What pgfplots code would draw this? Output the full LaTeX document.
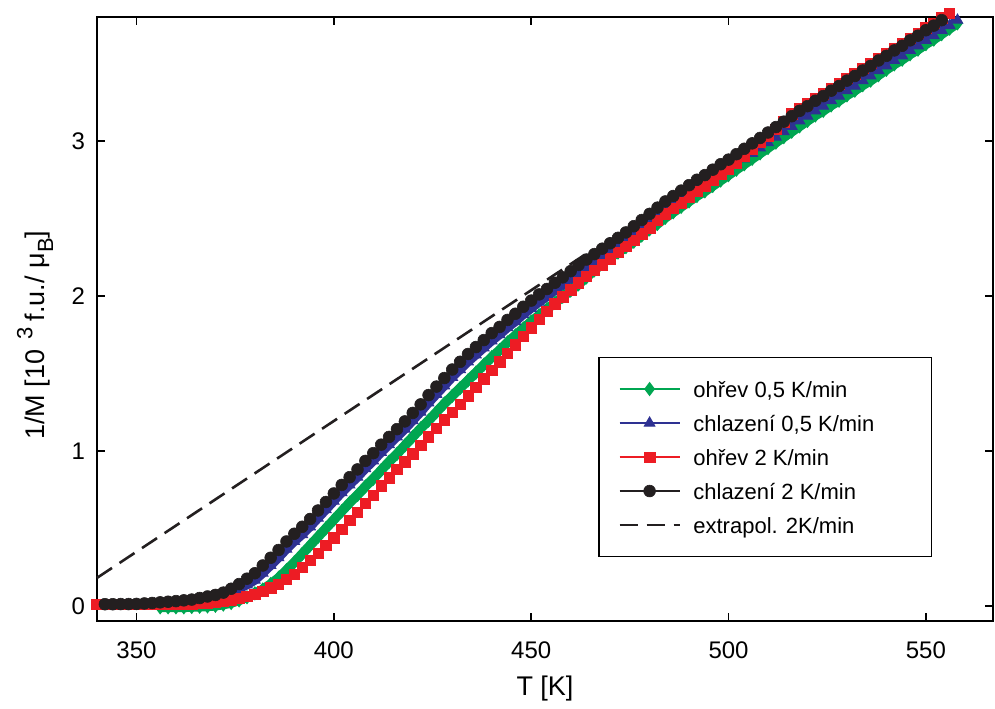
\documentclass[border=0pt]{standalone}
\usepackage{fontspec}
\setmainfont{Liberation Sans}
\usepackage{pgfplots}
\usepackage{pgfplotstable}
\pgfplotsset{compat=1.18}
\definecolor{cgreen}{RGB}{0,166,81}
\definecolor{cblue}{RGB}{46,49,146}
\definecolor{cred}{RGB}{237,28,36}
\definecolor{cblack}{RGB}{35,31,32}

\pgfplotstableread[row sep=\\]{
T v\\
356 -0.010\\ 358 -0.010\\ 360 -0.010\\ 362 -0.010\\ 364 -0.008\\ 366 -0.006\\ 368 -0.004\\ 370 0.000\\
372 0.008\\ 374 0.018\\ 376 0.035\\ 378 0.055\\ 380 0.080\\ 382 0.105\\ 384 0.140\\ 386 0.180\\
388 0.230\\ 390 0.280\\ 392 0.335\\ 394 0.390\\ 396 0.445\\ 398 0.500\\ 400 0.555\\ 402 0.610\\
404 0.665\\ 406 0.715\\ 408 0.770\\ 410 0.820\\ 412 0.875\\ 414 0.930\\ 416 0.980\\ 418 1.035\\
420 1.090\\ 422 1.145\\ 424 1.195\\ 426 1.250\\ 428 1.305\\ 430 1.355\\ 432 1.405\\ 434 1.455\\
436 1.505\\ 438 1.555\\ 440 1.605\\ 442 1.650\\ 444 1.700\\ 446 1.745\\ 448 1.790\\ 450 1.835\\
452 1.875\\ 454 1.915\\ 456 1.955\\ 458 1.995\\ 460 2.035\\ 462 2.075\\ 464 2.120\\ 466 2.165\\
468 2.210\\ 470 2.250\\ 472 2.280\\ 474 2.315\\ 476 2.350\\ 478 2.390\\ 480 2.430\\ 482 2.465\\
484 2.505\\ 486 2.540\\ 488 2.575\\ 490 2.610\\ 492 2.645\\ 494 2.675\\ 496 2.710\\ 498 2.745\\
500 2.780\\ 502 2.815\\ 504 2.850\\ 506 2.885\\ 508 2.920\\ 510 2.955\\ 512 2.990\\ 514 3.025\\
516 3.060\\ 518 3.095\\ 520 3.130\\ 522 3.165\\ 524 3.195\\ 526 3.230\\ 528 3.260\\ 530 3.295\\
532 3.325\\ 534 3.360\\ 536 3.390\\ 538 3.425\\ 540 3.460\\ 542 3.495\\ 544 3.525\\ 546 3.560\\
548 3.590\\ 550 3.625\\ 552 3.655\\ 554 3.690\\ 556 3.725\\ 558 3.760\\
}\greendata

\pgfplotstableread[row sep=\\]{
T v\\
358 0.005\\ 360 0.008\\ 362 0.012\\ 364 0.018\\ 366 0.025\\ 368 0.035\\ 370 0.048\\ 372 0.065\\
374 0.085\\ 376 0.110\\ 378 0.135\\ 380 0.165\\ 382 0.210\\ 384 0.260\\ 386 0.310\\ 388 0.365\\
390 0.415\\ 392 0.460\\ 394 0.510\\ 396 0.565\\ 398 0.620\\ 400 0.675\\ 402 0.730\\ 404 0.780\\
406 0.830\\ 408 0.885\\ 410 0.935\\ 412 0.990\\ 414 1.040\\ 416 1.090\\ 418 1.140\\ 420 1.195\\
422 1.250\\ 424 1.310\\ 426 1.365\\ 428 1.420\\ 430 1.475\\ 432 1.525\\ 434 1.575\\ 436 1.620\\
438 1.665\\ 440 1.710\\ 442 1.750\\ 444 1.795\\ 446 1.835\\ 448 1.880\\ 450 1.920\\ 452 1.960\\
454 1.995\\ 456 2.035\\ 458 2.070\\ 460 2.110\\ 462 2.150\\ 464 2.185\\ 466 2.220\\ 468 2.255\\
470 2.290\\ 472 2.320\\ 474 2.355\\ 476 2.390\\ 478 2.430\\ 480 2.470\\ 482 2.505\\ 484 2.545\\
486 2.580\\ 488 2.615\\ 490 2.650\\ 492 2.685\\ 494 2.715\\ 496 2.750\\ 498 2.785\\ 500 2.815\\
502 2.850\\ 504 2.885\\ 506 2.920\\ 508 2.955\\ 510 2.990\\ 512 3.025\\ 514 3.060\\ 516 3.095\\
518 3.130\\ 520 3.160\\ 522 3.195\\ 524 3.225\\ 526 3.260\\ 528 3.290\\ 530 3.325\\ 532 3.355\\
534 3.390\\ 536 3.420\\ 538 3.455\\ 540 3.485\\ 542 3.520\\ 544 3.550\\ 546 3.585\\ 548 3.615\\
550 3.650\\ 552 3.680\\ 554 3.715\\ 556 3.745\\ 558 3.780\\
}\bluedata

\pgfplotstableread[row sep=\\]{
T v\\
340 0.010\\ 342 0.010\\ 344 0.010\\ 346 0.010\\ 348 0.010\\ 350 0.010\\ 352 0.010\\ 354 0.010\\
356 0.010\\ 358 0.010\\ 360 0.011\\ 362 0.011\\ 364 0.012\\ 366 0.015\\ 368 0.018\\ 370 0.022\\
372 0.028\\ 374 0.038\\ 376 0.050\\ 378 0.062\\ 380 0.075\\ 382 0.095\\ 384 0.115\\ 386 0.140\\
388 0.170\\ 390 0.205\\ 392 0.250\\ 394 0.295\\ 396 0.340\\ 398 0.390\\ 400 0.440\\ 402 0.495\\
404 0.550\\ 406 0.605\\ 408 0.660\\ 410 0.715\\ 412 0.775\\ 414 0.825\\ 416 0.880\\ 418 0.930\\
420 0.980\\ 422 1.035\\ 424 1.090\\ 426 1.145\\ 428 1.200\\ 430 1.250\\ 432 1.300\\ 434 1.355\\
436 1.410\\ 438 1.465\\ 440 1.520\\ 442 1.575\\ 444 1.630\\ 446 1.685\\ 448 1.740\\ 450 1.795\\
452 1.850\\ 454 1.900\\ 456 1.950\\ 458 1.995\\ 460 2.040\\ 462 2.085\\ 464 2.125\\ 466 2.165\\
468 2.200\\ 470 2.240\\ 472 2.280\\ 474 2.320\\ 476 2.360\\ 478 2.400\\ 480 2.440\\ 482 2.490\\
484 2.530\\ 486 2.565\\ 488 2.600\\ 490 2.640\\ 492 2.675\\ 494 2.710\\ 496 2.750\\ 498 2.785\\
500 2.820\\ 502 2.860\\ 504 2.900\\ 506 2.945\\ 508 2.990\\ 510 3.030\\ 512 3.075\\ 514 3.125\\
516 3.175\\ 518 3.210\\ 520 3.240\\ 522 3.275\\ 524 3.305\\ 526 3.340\\ 528 3.370\\ 530 3.405\\
532 3.435\\ 534 3.470\\ 536 3.500\\ 538 3.535\\ 540 3.565\\ 542 3.600\\ 544 3.630\\ 546 3.665\\
548 3.695\\ 550 3.730\\ 552 3.760\\ 554 3.795\\ 556 3.825\\
}\reddata

\pgfplotstableread[row sep=\\]{
T v\\
342 0.010\\ 344 0.010\\ 346 0.011\\ 348 0.011\\ 350 0.012\\ 352 0.015\\ 354 0.018\\ 356 0.022\\
358 0.026\\ 360 0.030\\ 362 0.035\\ 364 0.040\\ 366 0.050\\ 368 0.060\\ 370 0.070\\ 372 0.085\\
374 0.110\\ 376 0.140\\ 378 0.175\\ 380 0.210\\ 382 0.260\\ 384 0.310\\ 386 0.360\\ 388 0.415\\
390 0.465\\ 392 0.510\\ 394 0.560\\ 396 0.615\\ 398 0.670\\ 400 0.725\\ 402 0.780\\ 404 0.830\\
406 0.880\\ 408 0.935\\ 410 0.985\\ 412 1.040\\ 414 1.090\\ 416 1.140\\ 418 1.190\\ 420 1.245\\
422 1.300\\ 424 1.360\\ 426 1.415\\ 428 1.470\\ 430 1.525\\ 432 1.575\\ 434 1.625\\ 436 1.670\\
438 1.715\\ 440 1.760\\ 442 1.800\\ 444 1.845\\ 446 1.885\\ 448 1.930\\ 450 1.970\\ 452 2.010\\
454 2.045\\ 456 2.085\\ 458 2.120\\ 460 2.160\\ 462 2.200\\ 464 2.235\\ 466 2.270\\ 468 2.305\\
470 2.340\\ 472 2.375\\ 474 2.410\\ 476 2.450\\ 478 2.490\\ 480 2.530\\ 482 2.570\\ 484 2.610\\
486 2.645\\ 488 2.680\\ 490 2.715\\ 492 2.750\\ 494 2.780\\ 496 2.815\\ 498 2.850\\ 500 2.880\\
502 2.915\\ 504 2.950\\ 506 2.985\\ 508 3.020\\ 510 3.055\\ 512 3.090\\ 514 3.125\\ 516 3.160\\
518 3.195\\ 520 3.225\\ 522 3.260\\ 524 3.290\\ 526 3.325\\ 528 3.355\\ 530 3.390\\ 532 3.420\\
534 3.455\\ 536 3.485\\ 538 3.520\\ 540 3.550\\ 542 3.585\\ 544 3.615\\ 546 3.650\\ 548 3.680\\
550 3.715\\ 552 3.745\\ 554 3.780\\
}\blackdata

\begin{document}
\begin{tikzpicture}
\begin{axis}[
  scale only axis, width=448bp, height=302bp,
  xmin=340, xmax=567, ymin=-0.097, ymax=3.802,
  xtick={350,400,450,500,550}, ytick={0,1,2,3},
  tick align=inside, xtick pos=both, ytick pos=both,
  xticklabel pos=lower, yticklabel pos=left,
  major tick length=4bp,
  every tick/.style={black, line width=0.9bp},
  axis line style={line width=1bp},
  /pgf/number format/assume math mode=true,
  tick label style={font=\fontsize{12bp}{14bp}\selectfont},
  xticklabel style={yshift=-7bp},
  yticklabel style={xshift=-2.5bp},
  clip=false,
  xlabel={T [K]},
  ylabel={1/M [10\hspace{5bp}\raisebox{0.85ex}{\fontsize{11bp}{13bp}\selectfont 3}\hspace{3bp}f.u./\hspace{4bp}μ\raisebox{-0.6ex}{\fontsize{11bp}{13bp}\selectfont B}]},
  label style={font=\fontsize{13.5bp}{16bp}\selectfont},
  x label style={at={([yshift=-34bp]axis description cs:0.5,0)}, anchor=center},
  y label style={at={([xshift=-31bp]axis description cs:0,0.473)}, anchor=center},
  legend cell align=left,
  legend style={at={(rel axis cs:0.5592,0.4371)}, anchor=north west, draw=black,
    line width=0.75bp, inner xsep=10bp, inner ysep=9bp, row sep=3.5bp,
    font=\fontsize{11bp}{13bp}\selectfont,
    /tikz/every odd column/.append style={column sep=5bp},
    nodes={inner sep=1.5bp, text height=9.5bp, text depth=1bp}},
  legend image code/.code={\draw[mark repeat=2,mark phase=2,#1,line width=0.8bp]
    plot coordinates {(0bp,0bp) (15bp,0bp) (30bp,0bp)};},
]
\addplot[cgreen, line width=4.8bp, mark=diamond*, mark size=3.2bp, mark options={solid, fill=cgreen, line width=0.5bp}] table[x=T,y=v] {\greendata};
\addlegendentry{\makebox[107.5bp][l]{ohřev 0,5 K/min}}
\addplot[cblue, line width=4.5bp, mark=triangle*, mark size=3.0bp, mark options={solid, fill=cblue, line width=0.5bp}] table[x=T,y=v] {\bluedata};
\addlegendentry{chlazení 0,5 K/min}
\addplot[cred, line width=0.8bp, mark=square*, mark size=2.6bp, mark options={solid, fill=cred, line width=0.3bp}] table[x=T,y=v] {\reddata};
\addlegendentry{ohřev 2 K/min}
\addplot[cblack, line width=0.8bp, mark=*, mark size=2.95bp, mark options={solid, fill=cblack, line width=0.3bp}] table[x=T,y=v] {\blackdata};
\addlegendentry{chlazení 2 K/min}
\addplot[cblack, line width=1.3bp, dash pattern=on 9bp off 4.5bp] coordinates {(340,0.18) (465,2.29)};
\addlegendentry{extrapol. 2K/min}
\end{axis}
\path ([xshift=-48.5bp,yshift=-42bp]current axis.south west) rectangle ([xshift=1bp,yshift=8.4bp]current axis.north east);
\end{tikzpicture}
\end{document}
